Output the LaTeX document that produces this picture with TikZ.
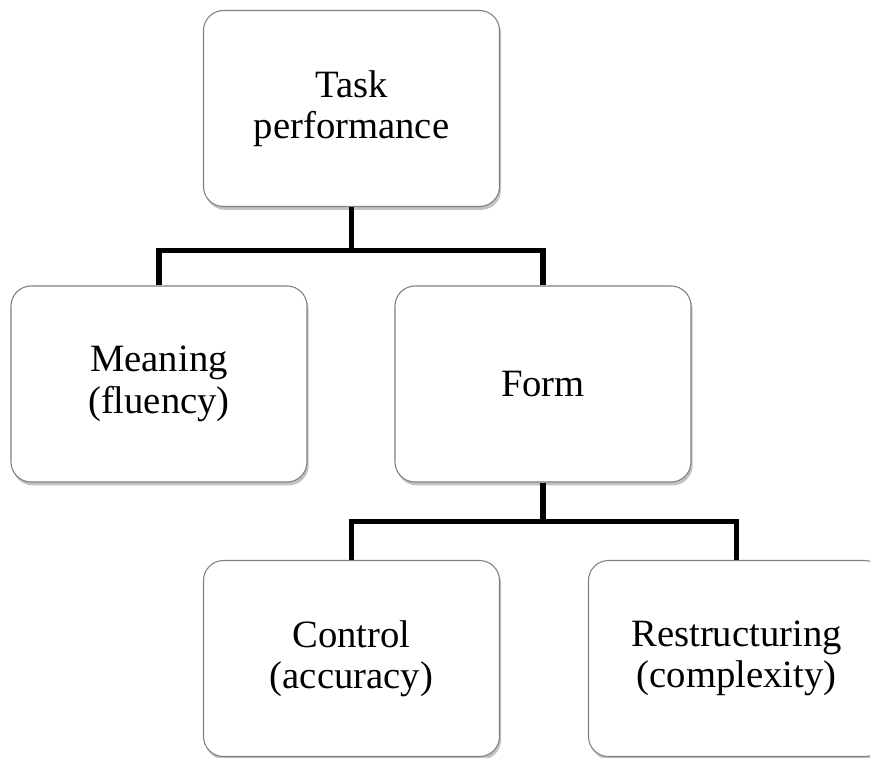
\documentclass[tikz,border=0pt]{standalone}
\usepackage{fontspec}
\setmainfont{Liberation Serif}
\usetikzlibrary{positioning,shadows,calc}
\tikzset{
  tpbox/.style={
    rectangle, rounded corners=15pt, draw=black!50, fill=white, line width=0.8pt,
    minimum width=222pt, minimum height=147pt, align=center,
    font=\fontsize{29}{31}\selectfont,
    drop shadow={shadow xshift=1.2pt,shadow yshift=-2.5pt,opacity=0.4,fill=black!60}
  },
  tplink/.style={line width=3.8pt,draw=black,line join=miter}
}

\begin{document}
\begin{tikzpicture}[x=0.75pt,y=-0.75pt]
  \useasboundingbox (0,0) rectangle (870,757);
  \clip (0,0) rectangle (870,757);
  % top level
  \node[tpbox] (task) at (351.5,108.5) {Task\\performance};
  % second level
  \node[tpbox] (mean) at (159,384) {Meaning\\(fluency)};
  \node[tpbox] (form) at (543,384) {Form};
  % third level
  \node[tpbox] (ctrl) at (351.5,658.5) {Control\\(accuracy)};
  \node[tpbox] (restr) at (736.5,658.5) {Restructuring\\(complexity)};

  % connectors
  \draw[tplink] (task.south) -- ++(0,43) -| (mean.north);
  \draw[tplink] (task.south) -- ++(0,43) -| (form.north);
  \draw[tplink] (form.south) -- ++(0,39) -| (ctrl.north);
  \draw[tplink] (form.south) -- ++(0,39) -| (restr.north);
\end{tikzpicture}
\end{document}
